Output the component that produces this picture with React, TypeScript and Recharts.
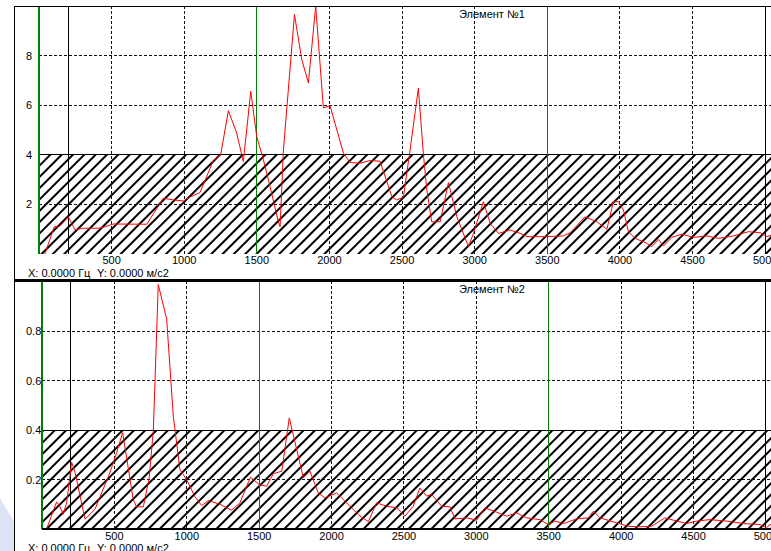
import { LineChart, Line, XAxis, YAxis, ReferenceLine, ReferenceArea } from 'recharts'

// spectrum, element 1 (Hz / m/s2)
const freq1 = [40, 105, 145, 202, 248, 305, 420, 512, 742, 856, 925, 994, 1040, 1109, 1200, 1251, 1304, 1361, 1407, 1458,
  1499, 1545, 1591, 1648, 1660, 1683, 1759, 1809, 1855, 1905, 1958, 2004, 2096, 2142, 2211, 2280, 2348, 2429, 2463, 2509,
  2555, 2612, 2647, 2670, 2704, 2762, 2819, 2877, 2957, 2991, 3060, 3106, 3163, 3244, 3313, 3359, 3496, 3611, 3657, 3760,
  3841, 3910, 3955, 3990, 4024, 4058, 4105, 4185, 4220, 4265, 4300, 4357, 4426, 4506, 4598, 4678, 4782, 4885, 4966, 5011, 5040]
const amp1 = [0, 1.1, 1.13, 1.5, 0.97, 1.04, 1.04, 1.21, 1.2, 2.25, 2.18, 2.14, 2.3, 2.48, 3.77, 4.0, 5.78, 4.88, 3.73, 6.56,
  4.74, 3.8, 2.72, 1.3, 1.1, 4.2, 9.66, 7.84, 6.9, 9.99, 5.89, 5.98, 4.07, 3.69, 3.66, 3.77, 3.74, 2.32, 2.18, 2.29,
  4.2, 6.69, 4.0, 2.59, 1.3, 1.3, 2.88, 1.5, 0.3, 0.83, 2.11, 1.24, 0.83, 0.97, 0.83, 0.7, 0.7, 0.73, 0.86, 1.5,
  1.3, 1.0, 2.11, 2.11, 1.78, 0.9, 0.63, 0.43, 0.3, 0.59, 0.32, 0.67, 0.8, 0.67, 0.73, 0.63, 0.73, 0.9, 0.86, 0.7, 0.75]

// spectrum, element 2
const freq2 = [32, 101, 124, 147, 170, 205, 228, 297, 366, 470, 516, 557, 630, 653, 700, 741, 769, 803, 861, 907,
  953, 999, 1057, 1103, 1149, 1229, 1310, 1367, 1440, 1500, 1552, 1598, 1656, 1708, 1805, 1851, 1908, 1954, 2035, 2104,
  2196, 2254, 2311, 2380, 2449, 2507, 2564, 2610, 2656, 2691, 2760, 2818, 2852, 2933, 3002, 3059, 3140, 3209, 3278, 3347,
  3439, 3497, 3543, 3601, 3693, 3773, 3808, 3854, 3969, 4049, 4130, 4210, 4302, 4360, 4452, 4521, 4613, 4729, 4844, 4959,
  5004, 5035]
const amp2 = [0, 0.11, 0.09, 0.06, 0.106, 0.27, 0.23, 0.04, 0.08, 0.23, 0.31, 0.39, 0.12, 0.09, 0.09, 0.21, 0.4, 0.99, 0.85, 0.456,
  0.24, 0.2, 0.13, 0.095, 0.115, 0.1, 0.076, 0.106, 0.21, 0.18, 0.173, 0.224, 0.234, 0.45, 0.207, 0.234, 0.146, 0.126, 0.146, 0.106,
  0.052, 0.03, 0.106, 0.092, 0.086, 0.052, 0.092, 0.166, 0.133, 0.14, 0.092, 0.09, 0.041, 0.045, 0.036, 0.086, 0.068, 0.052, 0.065, 0.045,
  0.038, 0.018, 0.032, 0.022, 0.041, 0.045, 0.072, 0.045, 0.025, 0.011, 0.009, 0.011, 0.045, 0.036, 0.022, 0.032, 0.038, 0.032, 0.022, 0.018,
  0.005, 0.02]

const xTicks = [500, 1000, 1500, 2000, 2500, 3000, 3500, 4000, 4500, 5000]
const gridX = [500, 1000, 2000, 2500, 3000, 4000, 4500]
const greenX = [0, 1500, 3500]
const blackX = [200, 5000]

const yTicks1 = [2, 4, 6, 8]
const gridY1 = [2, 6, 8]
const limit1 = 4
const yTicks2 = [0.2, 0.4, 0.6, 0.8]
const gridY2 = [0.2, 0.6, 0.8]
const limit2 = 0.4

const font = '"Liberation Sans", Arial, sans-serif'

const XTick = ({ x, y, payload }: any) => (
  <text x={x} y={y} dy="0.71em" textAnchor="middle" fontSize={11} fontFamily={font} fill="#000">{payload.value}</text>
)
const YTick = ({ y, payload }: any) => (
  <text x={26} y={y} dy="0.355em" textAnchor="start" fontSize={11} fontFamily={font} fill="#000">{payload.value}</text>
)

interface PanelProps {
  freq: number[]; amp: number[]; xMax: number; yMax: number
  yTicks: number[]; gridY: number[]; limit: number
  height: number; margin: { top: number; right: number; bottom: number; left: number }
  yWidth: number; baseLine: boolean; tickGap: number
}

function Panel({ freq, amp, xMax, yMax, yTicks, gridY, limit, height, margin, yWidth, baseLine, tickGap }: PanelProps) {
  const data = freq.map((f, i) => ({ f, v: amp[i] }))
  return (
    <LineChart width={771} height={height} data={data} margin={margin}>
      <XAxis dataKey="f" type="number" domain={[0, xMax]} ticks={xTicks} interval={0} allowDataOverflow
        tick={<XTick />} tickSize={0} tickMargin={tickGap} height={20}
        axisLine={baseLine ? { stroke: '#000', strokeWidth: 2 } : false} tickLine={false} />
      <YAxis type="number" domain={[0, yMax]} ticks={yTicks} interval={0} allowDataOverflow
        tick={<YTick />} width={yWidth} axisLine={false} tickLine={false} />
      {gridX.map(x => <ReferenceLine key={'gx' + x} x={x} stroke="#111" strokeDasharray="3 2" />)}
      {gridY.map(y => <ReferenceLine key={'gy' + y} y={y} stroke="#111" strokeDasharray="3 2" />)}
      <ReferenceArea x1={0} x2={xMax} y1={0} y2={limit} fill="url(#hatch)" fillOpacity={1} stroke="none" />
      <ReferenceLine y={limit} stroke="#000" />
      {blackX.map(x => <ReferenceLine key={'bx' + x} x={x} stroke="#000" />)}
      {greenX.map(x => <ReferenceLine key={'gr' + x} x={x} stroke="#008000" strokeWidth={x === 0 ? 2 : 1} />)}
      <Line type="linear" dataKey="v" stroke="#ff0000" strokeWidth={1} dot={false} isAnimationActive={false} />
    </LineChart>
  )
}

export default function App() {
  return (
    <div style={{ position: 'absolute', left: 0, top: 0, width: 771, height: 551, background: '#fff', overflow: 'hidden' }}>
      <style>{'.recharts-reference-line line, .recharts-cartesian-axis-line { shape-rendering: crispEdges; }'}</style>
      <svg width={0} height={0} style={{ position: 'absolute' }}>
        <defs>
          <pattern id="hatch" patternUnits="userSpaceOnUse" width={8} height={8} patternTransform="rotate(45)">
            <rect x={0} y={0} width={2} height={8} fill="#000" shapeRendering="crispEdges" />
          </pattern>
        </defs>
      </svg>
      <svg width={771} height={551} style={{ position: 'absolute', left: 0, top: 0 }}>
        <path d="M0,498 Q8,512 14,521 L14,551 L0,551 Z" fill="#dfe3f6" />
      </svg>
      <div style={{ position: 'absolute', left: 0, top: 0 }}>
        <Panel freq={freq1} amp={amp1} xMax={5040} yMax={10} yTicks={yTicks1} gridY={gridY1} limit={limit1}
          height={278} margin={{ top: 6, right: 0, bottom: 4, left: 0 }} yWidth={39} baseLine={false} tickGap={2} />
      </div>
      <div style={{ position: 'absolute', left: 0, top: 280 }}>
        <Panel freq={freq2} amp={amp2} xMax={5035} yMax={1} yTicks={yTicks2} gridY={gridY2} limit={limit2}
          height={271} margin={{ top: 2, right: 0, bottom: 2, left: 0 }} yWidth={42} baseLine={true} tickGap={3} />
      </div>
      <svg width={771} height={551} style={{ position: 'absolute', left: 0, top: 0, pointerEvents: 'none' }}
        fontFamily={font} fontSize={11} fill="#000">
        <line x1={14.5} y1={6} x2={14.5} y2={551} stroke="#000" />
        <line x1={14} y1={6.5} x2={771} y2={6.5} stroke="#000" />
        <line x1={14} y1={280.5} x2={771} y2={280.5} stroke="#000" strokeWidth={3} />
        <text x={459} y={18}>Элемент №1</text>
        <text x={459} y={293}>Элемент №2</text>
        <text x={28} y={277}>X: 0.0000 Гц</text>
        <text x={97} y={277}>Y: 0.0000 м/с2</text>
        <text x={28} y={552}>X: 0.0000 Гц</text>
        <text x={97} y={552}>Y: 0.0000 м/с2</text>
      </svg>
    </div>
  )
}
